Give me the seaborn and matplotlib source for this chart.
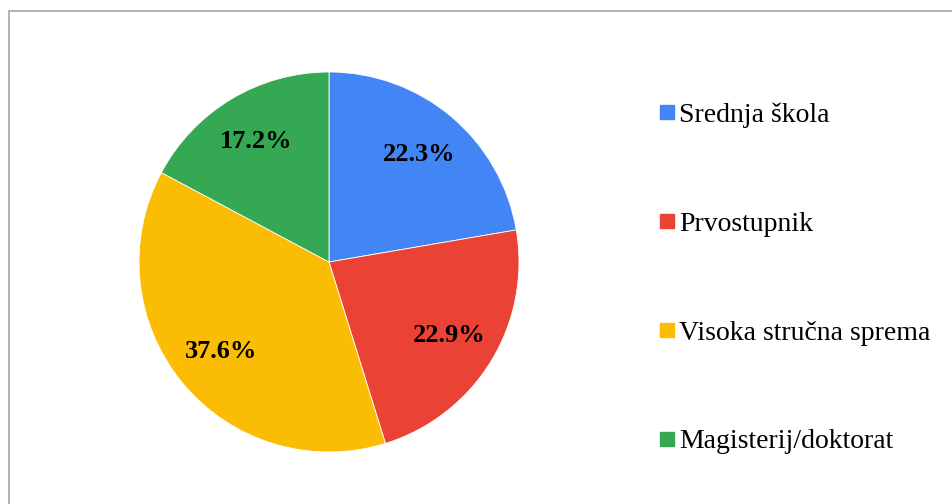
import matplotlib
matplotlib.use("Agg")
import matplotlib.pyplot as plt
from matplotlib.lines import Line2D
from matplotlib.patches import Rectangle
import seaborn as sns

# data
categories = ['Srednja škola', 'Prvostupnik', 'Visoka stručna sprema', 'Magisterij/doktorat']
shares = [22.3, 22.9, 37.6, 17.2]
colors = ['#4285F4', '#EA4335', '#FBBC04', '#34A853']

sns.set_style("white")
plt.rcParams['font.family'] = ['Liberation Serif', 'DejaVu Serif']
plt.rcParams['text.color'] = 'black'

W, H = 953, 504
fig = plt.figure(figsize=(W / 100, H / 100), dpi=100)

# outer border like the original chart area
fig.patches.append(Rectangle((9.5 / W, -0.1), 1.2, 1 - 10.5 / H + 0.1,
                             transform=fig.transFigure, fill=False,
                             edgecolor='#A6A6A6', linewidth=1.2))

# pie axes: centre (329, 262) px, radius 190 px
cx, cy, r = 329, 262, 190
ax = fig.add_axes([(cx - r) / W, (H - cy - r) / H, 2 * r / W, 2 * r / H])
pal = sns.color_palette(colors)
wedges, texts, autotexts = ax.pie(
    shares, colors=pal, startangle=90, counterclock=False,
    autopct='%.1f%%', pctdistance=0.74,
    wedgeprops=dict(edgecolor='white', linewidth=0.6))
for t in autotexts:
    t.set_fontsize(19)
    t.set_fontweight('bold')
    t.set_color('black')
ax.set_xlim(-1, 1)
ax.set_ylim(-1, 1)
ax.set_aspect('equal')
ax.axis('off')

handles = [Line2D([], [], marker='s', linestyle='', markersize=9.5,
                  markerfacecolor=c, markeredgecolor=c) for c in colors]
leg = fig.legend(handles, categories, loc='center left',
                 bbox_to_anchor=(660 / W, 1 - 278.5 / H), frameon=False,
                 fontsize=20, handlelength=0.5, handletextpad=0.18,
                 labelspacing=3.0, borderpad=0, borderaxespad=0)
for t in leg.get_texts():
    t.set_color('black')

fig.savefig('out.png', dpi=100)
